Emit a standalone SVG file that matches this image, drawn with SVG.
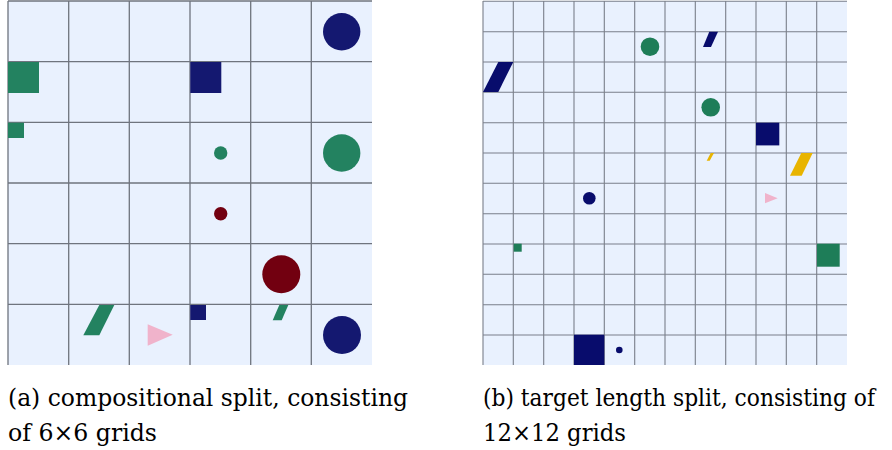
<svg xmlns="http://www.w3.org/2000/svg" width="892" height="450" viewBox="0 0 892 450">
<style>
.bg{fill:#e9f1fe}
.gl{stroke:#6f747e;stroke-width:1.3;fill:none}
.gl2{stroke:#7a7f8a;stroke-width:1.1;fill:none}
.navy{fill:#141870}
.navy2{fill:#080c6c}
.green{fill:#238260}
.green2{fill:#1e7d58}
.red{fill:#720010}
.pink{fill:#f0b3cb}
.yellow{fill:#e8b400}
.cap{font-family:"DejaVu Serif",serif;font-size:24px;fill:#000}
</style>
<g id="grid-a">
<rect class="bg" x="8" y="1" width="364" height="364"/>
<path class="gl" d="M8 1V365M68.7 1V365M129.3 1V365M190 1V365M250.7 1V365M311.3 1V365M8 1H372M8 61.7H372M8 122.3H372M8 183H372M8 243.7H372M8 304.3H372"/>
</g>
<g id="shapes-a">
<circle class="navy" cx="341.7" cy="31.7" r="18.7"/>
<rect class="green" x="8" y="62" width="31" height="31"/>
<rect class="navy" x="190.3" y="62" width="31" height="31"/>
<rect class="green" x="8" y="122.7" width="16" height="15.3"/>
<circle class="green" cx="220.7" cy="153" r="6.7"/>
<circle class="green" cx="341.7" cy="153" r="18.7"/>
<circle class="red" cx="220.7" cy="213.7" r="6.7"/>
<circle class="red" cx="281.3" cy="274.3" r="19"/>
<rect class="navy" x="190.3" y="305" width="15.7" height="15"/>
<polygon class="green" points="279.3,305 288.3,305 281.7,320.3 272.7,320.3"/>
<circle class="navy" cx="342" cy="335" r="19"/>
<polygon class="green" points="99.3,305 114.3,305 99.3,335.3 83.3,335.3"/>
<polygon class="pink" points="147.7,324.3 147.7,345.7 172.7,334.7"/>
</g>
<g id="grid-b">
<rect class="bg" x="483" y="1" width="364" height="364"/>
<path class="gl2" d="M483 1V365M513.3 1V365M543.7 1V365M574 1V365M604.3 1V365M634.7 1V365M665 1V365M695.3 1V365M725.7 1V365M756 1V365M786.3 1V365M816.7 1V365M483 1.3H847M483 31.7H847M483 62H847M483 92.3H847M483 122.7H847M483 153H847M483 183.3H847M483 213.7H847M483 244H847M483 274.3H847M483 304.7H847M483 335H847"/>
</g>
<g id="shapes-b">
<circle class="green2" cx="650" cy="46.7" r="9.3"/>
<polygon class="navy2" points="498.3,62 513.3,62 498.3,92 483,92"/>
<polygon class="navy2" points="709.3,31.7 718,31.7 711,47 703,47"/>
<circle class="green2" cx="710.7" cy="107.3" r="9.3"/>
<rect class="navy2" x="756" y="122.7" width="23.3" height="22.7"/>
<polygon class="yellow" points="710.7,153 714,153 709.7,160.7 706.7,160.7"/>
<polygon class="yellow" points="801.3,153 812.7,153 801.7,175.7 790,175.7"/>
<circle class="navy2" cx="589.3" cy="198.3" r="6.3"/>
<polygon class="pink" points="765,193 765,203.3 777.7,198.3"/>
<rect class="green2" x="513.7" y="243.7" width="8" height="8"/>
<rect class="green2" x="817" y="243.7" width="22.7" height="23"/>
<rect class="navy2" x="574" y="334.7" width="30.3" height="30.3"/>
<circle class="navy2" cx="619.3" cy="350" r="3.3"/>
</g>
<g id="captions">
<text class="cap" x="8" y="406" textLength="400" lengthAdjust="spacingAndGlyphs">(a) compositional split, consisting</text>
<text class="cap" x="8" y="441" textLength="149" lengthAdjust="spacingAndGlyphs">of 6×6 grids</text>
<text class="cap" x="483" y="406" font-size="23" textLength="392" lengthAdjust="spacingAndGlyphs">(b) target length split, consisting of</text>
<text class="cap" x="483" y="441" textLength="143" lengthAdjust="spacingAndGlyphs">12×12 grids</text>
</g>
</svg>
